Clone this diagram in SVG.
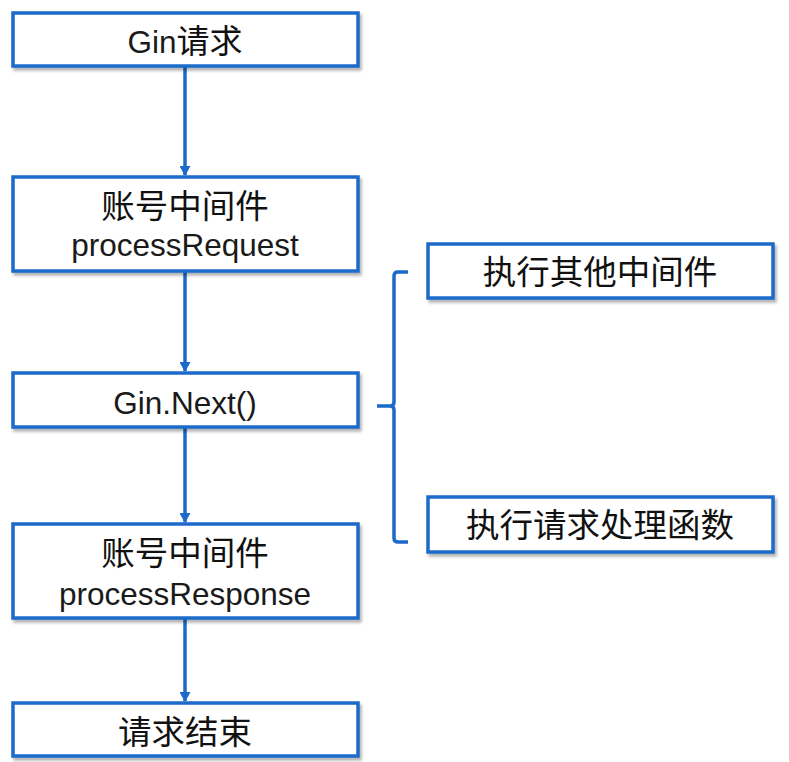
<svg xmlns="http://www.w3.org/2000/svg" width="789" height="762" viewBox="0 0 789 762">
<defs>
<filter id="sh" x="-5%" y="-10%" width="110%" height="130%">
<feDropShadow dx="2" dy="3" stdDeviation="1.5" flood-color="#000" flood-opacity="0.3"/>
</filter>
<marker id="ah" markerWidth="11" markerHeight="11" refX="9" refY="5.5" orient="auto" markerUnits="userSpaceOnUse">
<path d="M0,0 L10,5.5 L0,11 Z" fill="#1b6ac9"/>
</marker>
<style>
.box{fill:#fff;stroke:#1b6ac9;stroke-width:3.5;filter:url(#sh)}
.t{font-family:"Liberation Sans","Noto Sans CJK SC",sans-serif;font-size:31.5px;fill:#1a1a1a;text-anchor:middle}
.c{font-family:"Noto Sans CJK SC",sans-serif;font-size:33.5px;fill:#111;text-anchor:middle}
.ln{stroke:#1b6ac9;stroke-width:3.5;fill:none}
</style>
</defs>
<g id="connectors">
<line class="ln" x1="185" y1="67" x2="185" y2="175" marker-end="url(#ah)"/>
<line class="ln" x1="185" y1="272" x2="185" y2="371" marker-end="url(#ah)"/>
<line class="ln" x1="185" y1="428" x2="185" y2="522" marker-end="url(#ah)"/>
<line class="ln" x1="185" y1="619" x2="185" y2="701" marker-end="url(#ah)"/>
<path class="ln" d="M408,272 L398,272 Q394,272 394,276 L394,402 Q394,406 390,406 L377,406 M390,406 Q394,406 394,410 L394,538 Q394,542 398,542 L408,542"/>
</g>
<g id="n1"><rect class="box" x="13" y="13" width="345" height="53"/><text class="t" x="185" y="53">Gin<tspan class="c" style="font-size:33px">请求</tspan></text></g>
<g id="n2"><rect class="box" x="13" y="177" width="345" height="94"/><text class="c" x="185" y="218">账号中间件</text><text class="t" x="185" y="256">processRequest</text></g>
<g id="n3"><rect class="box" x="13" y="373" width="345" height="54"/><text class="t" x="185" y="414">Gin.Next()</text></g>
<g id="n4"><rect class="box" x="13" y="524" width="345" height="94"/><text class="c" x="185" y="565">账号中间件</text><text class="t" x="185" y="605">processResponse</text></g>
<g id="n5"><rect class="box" x="13" y="703" width="345" height="53"/><text class="c" x="185" y="744">请求结束</text></g>
<g id="n6"><rect class="box" x="428" y="244" width="345" height="54"/><text class="c" x="600" y="284">执行其他中间件</text></g>
<g id="n7"><rect class="box" x="428" y="497" width="345" height="55"/><text class="c" x="600" y="537">执行请求处理函数</text></g>
</svg>
